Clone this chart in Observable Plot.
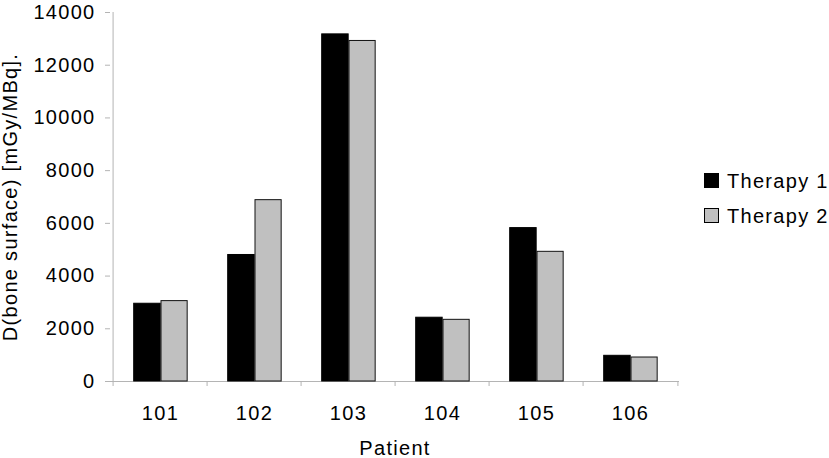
<!DOCTYPE html>
<html>
<head>
<meta charset="utf-8">
<script src="https://cdn.jsdelivr.net/npm/d3@7"></script>
<script src="https://cdn.jsdelivr.net/npm/@observablehq/plot@0.6"></script>
<style>
  body { margin: 0; background: white; }
  #wrap { position: relative; width: 829px; height: 458px; overflow: hidden; }
  .lg-sw { position: absolute; width: 15px; height: 15px; box-sizing: border-box; border: 1px solid #000; }
  .lg-tx { position: absolute; font-family: 'Liberation Sans', Arial, sans-serif; font-size: 20px; line-height: 20px; letter-spacing: 1.3px; color: #000; white-space: nowrap; }
</style>
</head>
<body>
<div id="wrap"></div>
<script>
// ---- data ----
const patients = ["101", "102", "103", "104", "105", "106"];
const therapy1 = [2950, 4800, 13170, 2420, 5820, 975];
const therapy2 = [3050, 6880, 12920, 2340, 4920, 910];
const therapies = ["Therapy 1", "Therapy 2"];
const therapyColors = ["#000000", "#c0c0c0"];
const yTicks = [0, 2000, 4000, 6000, 8000, 10000, 12000, 14000];
const xLabel = "Patient";
const yLabel = "D(bone surface) [mGy/MBq].";

// ---- layout ----
const W = 829, H = 458;
const mL = 110, mR = 150, mT = 12, mB = 77;
const band = (W - mL - mR) / patients.length;
const axisGray = "#b4b4b4";

const rows1 = patients.map((p, i) => ({patient: p, therapy: therapies[0], value: therapy1[i]}));
const rows2 = patients.map((p, i) => ({patient: p, therapy: therapies[1], value: therapy2[i]}));

const chart = Plot.plot({
  width: W, height: H,
  marginLeft: mL, marginRight: mR, marginTop: mT, marginBottom: mB,
  style: {fontFamily: "'Liberation Sans', Arial, sans-serif", fontSize: "20px", letterSpacing: "1.3px", background: "white", color: "black", overflow: "visible"},
  x: {domain: patients, padding: 0, axis: null},
  y: {domain: [0, 14000], axis: null},
  marks: [
    // y axis line
    Plot.ruleX([patients[0]], {x: d => d, dx: -band / 2, y1: () => 0, y2: () => 14000, stroke: axisGray}),
    Plot.axisY({ticks: yTicks, tickSize: 5, tickPadding: 10, tickFormat: d => String(d), stroke: axisGray, fill: "black", fontSize: 20, label: null}),
    // x axis line
    Plot.ruleY([0], {stroke: axisGray}),
    // category boundary ticks
    Plot.ruleX(patients, {x: d => d, dx: -band / 2, y1: () => 0, y2: () => 0, insetBottom: -5, stroke: axisGray}),
    Plot.ruleX([patients[patients.length - 1]], {x: d => d, dx: band / 2, y1: () => 0, y2: () => 0, insetBottom: -5, stroke: axisGray}),
    Plot.axisX({tickSize: 0, tickPadding: 24, fill: "black", fontSize: 20, label: null}),
    // bars
    Plot.barY(rows1, {x: "patient", y: "value", fill: therapyColors[0], stroke: "#000", strokeWidth: 1, insetLeft: 20.7, insetRight: band - 48}),
    Plot.barY(rows2, {x: "patient", y: "value", fill: therapyColors[1], stroke: "#111", strokeWidth: 1, insetLeft: 48, insetRight: band - 75}),
    // axis titles
    Plot.text([xLabel], {text: d => d, frameAnchor: "bottom", textAnchor: "middle", lineAnchor: "middle", dy: 67, fill: "black", fontSize: 20}),
    Plot.text([yLabel], {text: d => d, frameAnchor: "left", textAnchor: "middle", rotate: -90, lineAnchor: "middle", dx: -100, fill: "black", fontSize: 20})
  ]
});
const wrap = document.getElementById("wrap");
wrap.appendChild(chart);

// legend
therapies.forEach((t, i) => {
  const sw = document.createElement("div");
  sw.className = "lg-sw";
  sw.style.left = "704px";
  sw.style.top = (173 + 35 * i) + "px";
  sw.style.background = therapyColors[i];
  wrap.appendChild(sw);
  const tx = document.createElement("div");
  tx.className = "lg-tx";
  tx.style.left = "727px";
  tx.style.top = (170.6 + 35 * i) + "px";
  tx.textContent = t;
  wrap.appendChild(tx);
});
</script>
</body>
</html>
